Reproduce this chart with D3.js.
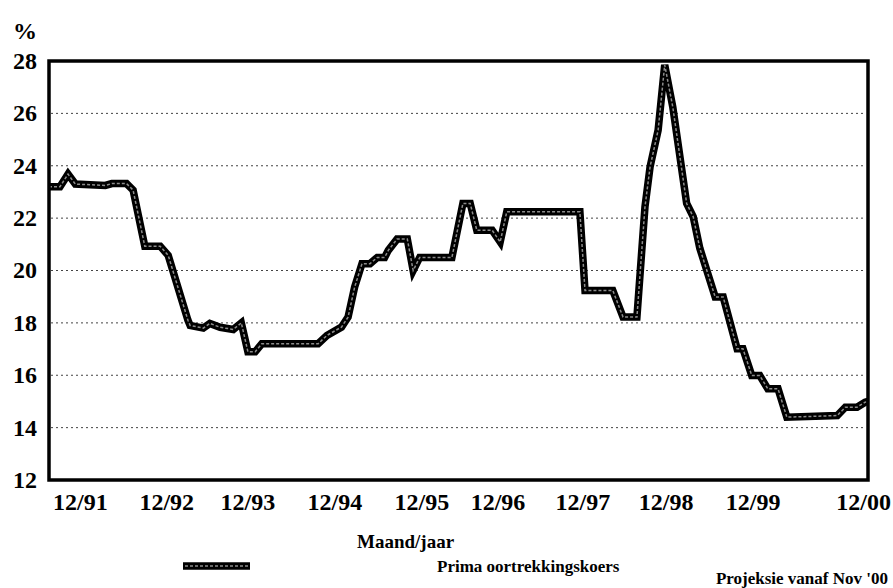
<!DOCTYPE html>
<html>
  <head>
    <title>Prima oortrekkingskoers</title>
    <script src="https://d3js.org/d3.v7.min.js"></script>
    <style>
      body {
        margin: 0;
        background: #fff;
      }
      svg text {
        font-family: "Liberation Serif", "DejaVu Serif", Tinos, "Times New Roman", Times, serif;
        font-weight: 700;
        fill: #000;
      }
      .tick-label { font-size: 24px; }
      .note { font-size: 17px; }
      .grid line {
        stroke: #444;
        stroke-width: 1;
        stroke-dasharray: 2, 3;
      }
      .rate-outer { fill: none; stroke: #000; stroke-width: 7.5px; }
      .rate-inner { fill: none; stroke: #8c8c8c; stroke-width: 1.5px; stroke-dasharray: 3, 2; }
    </style>
  </head>
  <body>
    <div class="chart"></div>
    <script>
      // position on the category axis, in months from 8/91
      var months = [0, 1.5, 2.6, 3.6, 7.7, 8.6, 10.6, 11.5, 13.1, 15.2, 16.3, 19.0, 19.3, 21.1,
        22.0, 23.4, 25.2, 26.3, 27.2, 28.2, 29.1, 36.8, 38.0, 40.0, 40.9, 41.8, 42.8, 43.9,
        44.9, 45.9, 46.4, 47.6, 49.0, 49.8, 50.7, 55.1, 56.6, 57.6, 58.5, 60.6, 61.7, 62.6,
        72.6, 73.3, 77.1, 78.5, 80.4, 81.5, 82.2, 83.3, 84.2, 85.3, 87.2, 88.1, 89.0, 91.1,
        92.2, 94.1, 94.9, 96.1, 97.2, 98.3, 99.7, 100.9, 107.8, 108.9, 110.5, 111.6, 112];

      // prime overdraft rate, %
      var rates = [23.2, 23.2, 23.68, 23.3, 23.25, 23.32, 23.32, 23.07, 20.93, 20.93, 20.58, 18.1, 17.9, 17.8,
        17.98, 17.83, 17.75, 18.0, 16.9, 16.9, 17.2, 17.2, 17.52, 17.84, 18.22, 19.37, 20.26, 20.26,
        20.5, 20.5, 20.77, 21.2, 21.2, 20.0, 20.5, 20.5, 22.56, 22.56, 21.54, 21.54, 21.09, 22.24,
        22.24, 19.24, 19.24, 18.22, 18.22, 22.43, 23.96, 25.36, 27.85, 26.25, 22.56, 22.05, 20.85, 18.99,
        18.99, 17.01, 17.01, 15.99, 15.99, 15.48, 15.48, 14.4, 14.46, 14.78, 14.78, 14.97, 15.0];

      var yTicks = [12, 14, 16, 18, 20, 22, 24, 26, 28];
      var xTickLabels = ["12/91", "12/92", "12/93", "12/94", "12/95", "12/96", "12/97", "12/98", "12/99", "12/00"];
      var xTickPos = [4.3, 16.1, 27.2, 39.1, 51.0, 61.4, 73.0, 84.4, 96.3, 111.4];

      var data = months.map(function(m, i) {
        return { m: m, v: rates[i] };
      });

      var W = 893, H = 588;
      var margin = { top: 61, right: 25, bottom: 108, left: 49 },
        width = W - margin.left - margin.right,
        height = H - margin.top - margin.bottom;

      var x = d3.scaleLinear().domain([0, 112]).range([0, width]);
      var y = d3.scaleLinear().domain([12, 28]).range([height, 0]);

      var svg = d3.select(".chart")
        .append("svg")
        .attr("width", W)
        .attr("height", H);

      var g = svg.append("g")
        .attr("transform", "translate(" + margin.left + "," + margin.top + ")");

      // dotted gridlines
      g.append("g")
        .attr("class", "grid")
        .selectAll("line")
        .data(yTicks.filter(function(t) { return t > 12 && t < 28; }))
        .enter().append("line")
        .attr("x1", 2)
        .attr("x2", width - 2)
        .attr("y1", function(d) { return y(d); })
        .attr("y2", function(d) { return y(d); });

      // y labels
      g.append("g")
        .selectAll("text")
        .data(yTicks)
        .enter().append("text")
        .attr("class", "tick-label")
        .attr("x", -12)
        .attr("y", function(d) { return y(d); })
        .attr("dy", "0.33em")
        .attr("text-anchor", "end")
        .text(function(d) { return d; });

      g.append("text")
        .attr("class", "tick-label")
        .attr("x", -36)
        .attr("y", -22)
        .text("%");

      // x labels
      g.append("g")
        .selectAll("text")
        .data(xTickLabels)
        .enter().append("text")
        .attr("class", "tick-label")
        .attr("x", function(d, i) { return x(xTickPos[i]); })
        .attr("y", height + 30)
        .attr("text-anchor", "middle")
        .text(function(d) { return d; });

      var valueline = d3.line()
        .x(function(d) { return x(d.m); })
        .y(function(d) { return y(d.v); });

      g.append("path")
        .attr("class", "rate-outer")
        .attr("d", valueline(data));
      g.append("path")
        .attr("class", "rate-inner")
        .attr("d", valueline(data));

      // plot frame
      g.append("rect")
        .attr("width", width)
        .attr("height", height)
        .attr("fill", "none")
        .attr("stroke", "#000")
        .attr("stroke-width", 3.5);

      svg.append("text")
        .attr("class", "note")
        .attr("x", 357)
        .attr("y", 548)
        .style("font-size", "19px")
        .text("Maand/jaar");

      // legend
      var leg = svg.append("g");
      leg.append("line")
        .attr("class", "rate-outer")
        .attr("x1", 183).attr("x2", 250)
        .attr("y1", 566).attr("y2", 566);
      leg.append("line")
        .attr("class", "rate-inner")
        .attr("x1", 185).attr("x2", 248)
        .attr("y1", 566).attr("y2", 566);
      leg.append("text")
        .attr("class", "note")
        .attr("x", 437)
        .attr("y", 572)
        .text("Prima oortrekkingskoers");

      svg.append("text")
        .attr("class", "note")
        .attr("x", 888)
        .attr("y", 584)
        .attr("text-anchor", "end")
        .text("Projeksie vanaf Nov '00");
    </script>
  </body>
</html>
